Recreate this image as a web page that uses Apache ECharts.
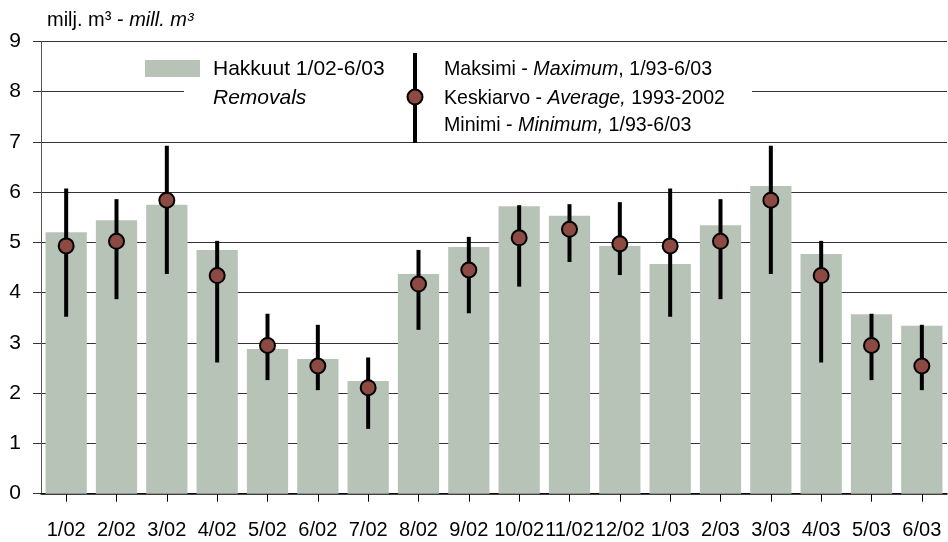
<!DOCTYPE html>
<html>
<head>
<meta charset="utf-8">
<script src="https://cdn.jsdelivr.net/npm/echarts@6/dist/echarts.min.js"></script>
<style>html,body{margin:0;padding:0;background:#fff;}#c{width:948px;height:542px;}</style>
</head>
<body>
<div id="c"></div>
<script>
const categories = ['1/02','2/02','3/02','4/02','5/02','6/02','7/02','8/02','9/02','10/02','11/02','12/02','1/03','2/03','3/03','4/03','5/03','6/03'];
const removals = [5.20,5.44,5.75,4.85,2.88,2.68,2.24,4.37,4.91,5.72,5.53,4.93,4.57,5.34,6.12,4.77,3.57,3.34];
const average  = [4.93,5.02,5.84,4.34,2.95,2.54,2.11,4.17,4.45,5.09,5.26,4.97,4.93,5.02,5.84,4.34,2.95,2.54];
const maximum  = [6.07,5.86,6.92,5.03,3.58,3.36,2.71,4.85,5.11,5.74,5.76,5.80,6.07,5.86,6.92,5.03,3.58,3.36];
const minimum  = [3.52,3.87,4.37,2.61,2.26,2.06,1.29,3.26,3.59,4.12,4.61,4.35,3.52,3.87,4.37,2.61,2.26,2.06];
const yTicks = [0,1,2,3,4,5,6,7,8,9];

const FONT = '"Liberation Sans", Arial, sans-serif';
const BAR = '#b8c3b7';
const DOT = '#8c4a43';

const chart = echarts.init(document.getElementById('c'), null, {renderer:'canvas'});
const errData = categories.map((c,i)=>[i, minimum[i], maximum[i]]);
const italicRich = {i:{fontStyle:'italic', fontSize:21, fontFamily:FONT, fill:'#000'}};

chart.setOption({
  animation:false,
  backgroundColor:'#fff',
  textStyle:{fontFamily:FONT},
  grid:{left:41, right:1, top:41.3, bottom:48.3, containLabel:false},
  xAxis:{
    type:'category', data:categories, boundaryGap:true,
    axisLine:{show:true, lineStyle:{color:'#000', width:1.5}},
    axisTick:{show:true, alignWithLabel:true, length:8, lineStyle:{color:'#000', width:1}},
    axisLabel:{interval:0, color:'#000', fontSize:20, fontFamily:FONT, margin:27},
    splitLine:{show:false}
  },
  yAxis:{
    type:'value', min:yTicks[0], max:yTicks[yTicks.length-1], interval:1,
    axisLine:{show:true, lineStyle:{color:'#555', width:1}},
    axisTick:{show:true, length:8, lineStyle:{color:'#333', width:1}},
    axisLabel:{color:'#000', fontSize:21, fontFamily:FONT, margin:20},
    splitLine:{show:true, lineStyle:{color:'#333', width:1}}
  },
  series:[
    {type:'bar', data:removals, barCategoryGap:'18%', itemStyle:{color:BAR}, z:2},
    {type:'custom', data:errData, z:3,
      renderItem:function(params, api){
        const x = api.value(0);
        const p1 = api.coord([x, api.value(1)]);
        const p2 = api.coord([x, api.value(2)]);
        return {type:'line', shape:{x1:p1[0], y1:p1[1], x2:p2[0], y2:p2[1]},
          style:{stroke:'#000', lineWidth:4, lineCap:'butt'}};
      }
    },
    {type:'scatter', data:average, symbol:'circle', symbolSize:15, z:4,
      itemStyle:{color:DOT, borderColor:'#000', borderWidth:2, opacity:1}}
  ],
  graphic:[
    {type:'text', left:47, top:10, z:10, style:{text:'milj. m³ - {i|mill. m³}', fill:'#000', font:'20px '+FONT,
      rich:{i:{fontStyle:'italic', fontSize:20, fontFamily:FONT, fill:'#000'}}}},
    {type:'rect', z:10, shape:{x:184, y:80, width:568, height:24}, style:{fill:'#fff'}},
    {type:'rect', z:11, shape:{x:145, y:60, width:55, height:17}, style:{fill:BAR}},
    {type:'text', z:11, x:213, y:69, style:{text:'Hakkuut 1/02-6/03', fill:'#000', font:'21px '+FONT, verticalAlign:'middle'}},
    {type:'text', z:11, x:213, y:98, style:{text:'Removals', fill:'#000', font:'italic 21px '+FONT, verticalAlign:'middle'}},
    {type:'line', z:11, shape:{x1:415, y1:53, x2:415, y2:143}, style:{stroke:'#000', lineWidth:4}},
    {type:'circle', z:12, shape:{cx:415, cy:97, r:7.5}, style:{fill:DOT, stroke:'#000', lineWidth:2}},
    {type:'text', z:11, x:444, y:69, scaleX:0.934, style:{text:'Maksimi - {i|Maximum}, 1/93-6/03', fill:'#000', font:'21px '+FONT, verticalAlign:'middle', rich:italicRich}},
    {type:'text', z:11, x:444, y:98, scaleX:0.934, style:{text:'Keskiarvo - {i|Average,} 1993-2002', fill:'#000', font:'21px '+FONT, verticalAlign:'middle', rich:italicRich}},
    {type:'text', z:11, x:444, y:125, scaleX:0.934, style:{text:'Minimi - {i|Minimum,} 1/93-6/03', fill:'#000', font:'21px '+FONT, verticalAlign:'middle', rich:italicRich}}
  ]
});
</script>
</body>
</html>
